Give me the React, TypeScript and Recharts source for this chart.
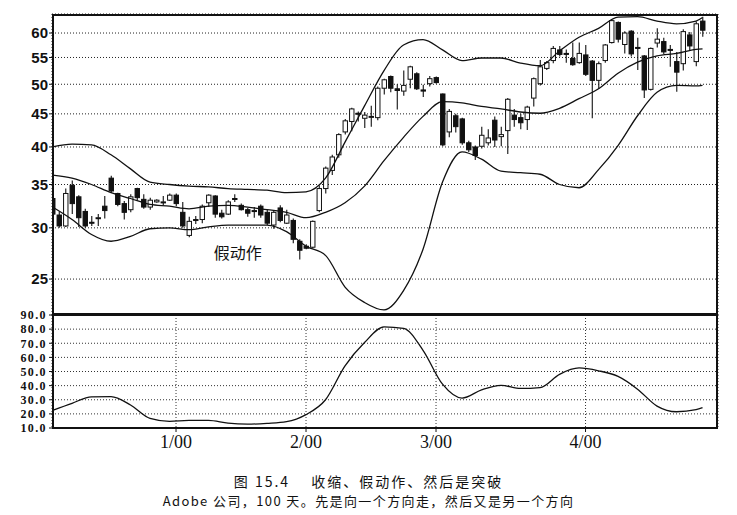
import React from 'react';
import {
  ComposedChart,
  LineChart,
  Line,
  Bar,
  XAxis,
  YAxis,
  CartesianGrid,
  ReferenceDot,
} from 'recharts';

// Adobe, 100 trading days (index = day number), prices
const opens = [
  33.3, 31.4, 30.2, 34.9, 33.5, 31.8, 30.6, 31.0, 32.4, 35.8,
  33.9, 32.7, 32.0, 34.5, 33.2, 32.3, 32.9, 32.8, 33.1, 33.7,
  31.7, 29.2, 30.8, 30.9, 32.8, 33.6, 31.6, 31.5, 33.3, 32.5,
  32.0, 31.9, 32.4, 31.7, 30.3, 32.2, 30.5, 30.8, 28.6, 28.1,
  28.0, 31.9, 34.5, 36.8, 38.9, 42.2, 43.8, 45.1, 44.3, 44.5,
  44.4, 49.3, 51.4, 49.2, 48.8, 50.9, 51.9, 49.0, 50.1, 51.2,
  48.3, 42.2, 44.7, 44.2, 40.6, 40.0, 40.1, 40.6, 44.0, 41.5,
  42.4, 44.8, 44.4, 44.1, 47.6, 50.1, 52.9, 54.4, 56.5, 55.8,
  54.8, 54.0, 55.5, 54.3, 50.7, 54.4, 58.0, 62.3, 57.6, 60.4,
  57.0, 55.3, 49.1, 57.9, 58.2, 56.6, 54.2, 53.8, 59.6, 54.2,
  62.6,
];
const highs = [
  33.8, 31.8, 34.5, 35.5, 33.7, 32.1, 31.3, 31.5, 33.6, 36.1,
  34.0, 33.0, 33.8, 34.6, 33.8, 33.4, 33.2, 33.6, 33.9, 33.9,
  32.9, 31.2, 31.3, 32.6, 33.8, 33.7, 32.0, 33.1, 33.8, 32.7,
  32.2, 32.3, 32.6, 32.0, 31.9, 32.5, 32.0, 31.0, 28.8, 28.3,
  30.8, 34.9, 37.3, 38.9, 42.0, 44.2, 46.0, 45.4, 45.3, 46.3,
  49.6, 51.0, 51.6, 50.0, 52.5, 53.4, 52.2, 49.9, 51.5, 51.4,
  48.4, 45.8, 45.0, 44.4, 40.9, 40.2, 43.0, 42.6, 44.6, 43.0,
  47.6, 45.8, 45.0, 46.3, 51.2, 54.5, 54.3, 57.3, 57.3, 56.6,
  58.0, 58.0, 57.5, 54.5, 54.2, 57.7, 62.9, 62.5, 60.4, 60.6,
  59.0, 55.5, 57.0, 61.0, 59.0, 57.5, 56.1, 60.8, 60.2, 62.5,
  63.6,
];
const lows = [
  30.5, 30.0, 30.1, 31.5, 30.1, 30.0, 30.2, 30.2, 31.0, 34.0,
  32.4, 30.9, 31.7, 33.1, 32.1, 32.0, 32.8, 32.5, 33.0, 32.4,
  30.0, 29.0, 30.4, 30.5, 32.3, 31.1, 31.0, 31.4, 32.9, 31.9,
  31.2, 31.1, 31.1, 30.3, 29.9, 30.6, 30.4, 28.4, 26.8, 27.8,
  27.9, 31.7, 33.9, 36.2, 38.5, 41.8, 42.3, 43.8, 42.8, 43.0,
  44.0, 48.2, 48.6, 45.7, 48.0, 49.3, 49.0, 47.8, 49.6, 50.1,
  40.1, 41.4, 42.1, 40.3, 39.3, 38.2, 39.8, 40.2, 40.0, 40.1,
  39.0, 43.0, 42.6, 42.5, 46.2, 49.8, 52.6, 53.9, 55.2, 54.0,
  53.4, 53.8, 51.5, 44.3, 49.2, 54.0, 57.8, 58.0, 55.8, 55.2,
  52.6, 47.6, 48.9, 57.0, 55.7, 53.2, 48.7, 52.5, 56.5, 53.3,
  59.2,
];
const closes = [
  31.5, 30.2, 33.9, 32.7, 31.1, 30.2, 30.5, 31.1, 31.9, 34.2,
  32.6, 31.7, 33.5, 33.4, 32.3, 33.1, 33.1, 32.9, 33.7, 32.7,
  30.2, 30.7, 30.9, 32.4, 33.7, 31.5, 31.2, 32.9, 33.2, 32.0,
  31.6, 31.9, 31.4, 30.5, 31.7, 30.8, 31.4, 28.8, 27.7, 27.9,
  30.7, 34.5, 37.1, 38.6, 41.8, 43.9, 45.8, 45.0, 44.8, 44.6,
  49.3, 50.8, 49.3, 48.9, 49.8, 53.2, 49.2, 48.8, 51.0, 50.3,
  40.3, 45.4, 43.0, 40.6, 39.6, 38.8, 41.7, 41.3, 41.0, 41.8,
  47.4, 44.1, 43.6, 46.1, 51.0, 53.2, 54.0, 56.8, 55.6, 55.7,
  53.6, 55.8, 51.8, 50.7, 53.8, 57.5, 62.7, 58.7, 60.0, 55.7,
  56.8, 49.0, 56.8, 58.7, 56.1, 56.4, 52.2, 60.3, 57.3, 62.0,
  60.6,
];

// Bollinger bands (20-day) and band width, sampled on these days
const bandDays = [
  0, 3, 6, 9, 12, 15, 18, 21, 24, 27, 30, 33, 36, 39, 42, 45, 48, 51,
  54, 57, 60, 63, 66, 69, 72, 75, 78, 81, 84, 87, 90, 93, 96, 99, 100,
];
const upperBand = [
  40.0, 40.4, 40.3, 38.9, 37.0, 35.3, 35.0, 34.8, 34.7, 34.5, 34.4, 34.3,
  34.0, 34.1, 35.8, 40.7, 46.3, 52.5, 57.5, 58.6, 56.5, 54.4, 54.9, 54.9,
  53.9, 53.4, 56.3, 59.1, 61.0, 63.5, 63.6, 62.6, 62.0, 62.6, 63.4,
];
const middleBand = [
  36.2, 35.8, 35.0, 34.0, 33.3, 32.6, 32.4, 32.1, 32.4, 32.5, 32.3, 32.0,
  31.7, 31.1, 31.7, 32.8, 34.8, 38.1, 41.4, 44.6, 47.0, 46.8, 46.2, 45.8,
  45.3, 45.1, 45.9, 47.5, 49.2, 52.0, 54.1, 55.3, 55.8, 56.6, 56.7,
];
const lowerBand = [
  32.3, 30.9, 29.3, 28.6, 29.1, 29.9, 30.0, 29.8, 30.1, 30.3, 30.3, 30.3,
  29.6, 28.1, 27.2, 24.3, 23.0, 22.4, 24.0, 27.8, 35.3, 39.3, 38.3, 36.7,
  36.5, 36.3, 35.0, 34.6, 36.9, 40.2, 44.7, 48.6, 49.8, 49.7, 49.8,
];
const bandWidth = [
  22.5, 27.5, 32.1, 32.2, 26.3, 16.8, 14.7, 15.4, 15.4, 13.4, 12.7, 13.3,
  14.5, 19.5, 30.0, 54.0, 70.5, 81.6, 80.5, 65.0, 41.0, 31.2, 37.0, 40.2,
  38.0, 38.6, 48.0, 52.5, 50.5, 46.5, 37.5, 25.5, 21.5, 23.0, 24.5,
];

const priceTicks = [25, 30, 35, 40, 45, 50, 55, 60];
const widthTicks = [10, 20, 30, 40, 50, 60, 70, 80, 90];
const monthDays = [19, 39, 59, 82];
const monthLabels = ['1/00', '2/00', '3/00', '4/00'];

const X_DOMAIN: [number, number] = [-0.08, 102.38];

const candleRows: any[] = opens.map((o, i) => ({
  i,
  o,
  h: highs[i],
  l: lows[i],
  c: closes[i],
  range: [lows[i], highs[i]],
}));
bandDays.forEach((d, k) => {
  candleRows[d].up = upperBand[k];
  candleRows[d].mid = middleBand[k];
  candleRows[d].lo = lowerBand[k];
});
const widthRows = bandDays.map((d, k) => ({ i: d, bw: bandWidth[k] }));

const Candle = (props: any) => {
  const { x, y, width, height, payload } = props;
  if (!payload || payload.o == null) return null;
  const { o, h, l, c } = payload;
  const top = Math.min(y, y + height);
  const span = Math.abs(height);
  const lh = Math.log(h);
  const ll = Math.log(l);
  const py = (p: number) => top + ((lh - Math.log(p)) / (lh - ll || 1)) * span;
  const cx = x + width / 2;
  const yo = py(o);
  const yc = py(c);
  const up = c >= o;
  const bt = Math.min(yo, yc);
  const bh = Math.max(Math.abs(yc - yo), 1);
  return (
    <g>
      <line x1={cx} x2={cx} y1={top} y2={top + span} stroke="#111" strokeWidth={1.1} />
      <rect
        x={cx - 2.2}
        y={bt}
        width={4.4}
        height={bh}
        fill={up ? '#fff' : '#111'}
        stroke="#111"
        strokeWidth={1}
      />
    </g>
  );
};

const serif = '"Liberation Serif", "DejaVu Serif", serif';
const cjk = '"Noto Sans CJK SC", "Noto Sans", sans-serif';

export default function App() {
  return (
    <div style={{ position: 'absolute', left: 0, top: 0, width: 737, height: 515, background: '#fff' }}>
      <div style={{ position: 'absolute', left: 0, top: 0 }}>
        <ComposedChart
          width={737}
          height={316}
          data={candleRows}
          margin={{ top: 14, right: 19, bottom: 0, left: 0 }}
        >
          <CartesianGrid stroke="#222" strokeDasharray="1 2" />
          <XAxis
            dataKey="i"
            type="number"
            domain={X_DOMAIN}
            allowDataOverflow
            ticks={monthDays}
            tick={false}
            tickLine={false}
            axisLine={false}
            height={1}
          />
          <YAxis
            type="number"
            scale="log"
            domain={[22, 64.2]}
            allowDataOverflow
            ticks={priceTicks}
            interval={0}
            width={52}
            tickSize={3}
            tickMargin={1}
            axisLine={false}
            tickLine={{ stroke: '#111' }}
            tick={{ fill: '#111', fontSize: 15, fontWeight: 700, fontFamily: '"Liberation Sans", Arial, sans-serif' }}
          />
          <Bar dataKey="range" barSize={5} shape={(p: any) => <Candle {...p} />} isAnimationActive={false} />
          <Line dataKey="up" type="monotone" stroke="#111" strokeWidth={1.3} dot={false} connectNulls isAnimationActive={false} />
          <Line dataKey="mid" type="monotone" stroke="#111" strokeWidth={1.3} dot={false} connectNulls isAnimationActive={false} />
          <Line dataKey="lo" type="monotone" stroke="#111" strokeWidth={1.3} dot={false} connectNulls isAnimationActive={false} />
          <ReferenceDot
            x={28.5}
            y={27.4}
            r={0}
            label={{ value: '假动作', position: 'center', fontSize: 16, fill: '#111', fontFamily: cjk }}
          />
        </ComposedChart>
      </div>
      <div style={{ position: 'absolute', left: 0, top: 300 }}>
        <LineChart
          width={737}
          height={160}
          data={widthRows}
          margin={{ top: 15, right: 19, bottom: 0, left: 0 }}
        >
          <CartesianGrid stroke="#333" strokeDasharray="1 2" />
          <XAxis
            dataKey="i"
            type="number"
            domain={X_DOMAIN}
            allowDataOverflow
            ticks={monthDays}
            interval={0}
            tickFormatter={(v: number) => monthLabels[monthDays.indexOf(v)]}
            height={32}
            tickSize={4}
            tickMargin={3}
            axisLine={false}
            tickLine={{ stroke: '#111' }}
            tick={{ fill: '#111', fontSize: 18, fontFamily: serif }}
          />
          <YAxis
            type="number"
            domain={[10, 90]}
            ticks={widthTicks}
            interval={0}
            tickFormatter={(v: number) => v.toFixed(1)}
            width={52}
            tickSize={3}
            tickMargin={2}
            axisLine={false}
            tickLine={{ stroke: '#111' }}
            tick={{ fill: '#111', fontSize: 12, fontWeight: 700, fontFamily: serif, letterSpacing: 1.4 }}
          />
          <Line dataKey="bw" type="monotone" stroke="#111" strokeWidth={1.3} dot={false} isAnimationActive={false} />
        </LineChart>
      </div>
      <div style={{ position: 'absolute', left: 52, top: 14, width: 666, height: 301, border: '2px solid #111', boxSizing: 'border-box', pointerEvents: 'none' }} />
      <div style={{ position: 'absolute', left: 52, top: 314, width: 666, height: 115, border: '2px solid #111', boxSizing: 'border-box', pointerEvents: 'none' }} />
      <div style={{ position: 'absolute', left: 0, width: 737, top: 474, textAlign: 'center', fontSize: 14, lineHeight: '14px', letterSpacing: 2, fontFamily: cjk, color: '#111' }}>
        图 15.4{'\u3000 '}收缩、假动作、然后是突破
      </div>
      <div style={{ position: 'absolute', left: 0, width: 737, top: 494, textAlign: 'center', fontSize: 13, lineHeight: '13px', letterSpacing: 1.4, fontFamily: cjk, color: '#111' }}>
        Adobe 公司，100 天。先是向一个方向走，然后又是另一个方向
      </div>
    </div>
  );
}
